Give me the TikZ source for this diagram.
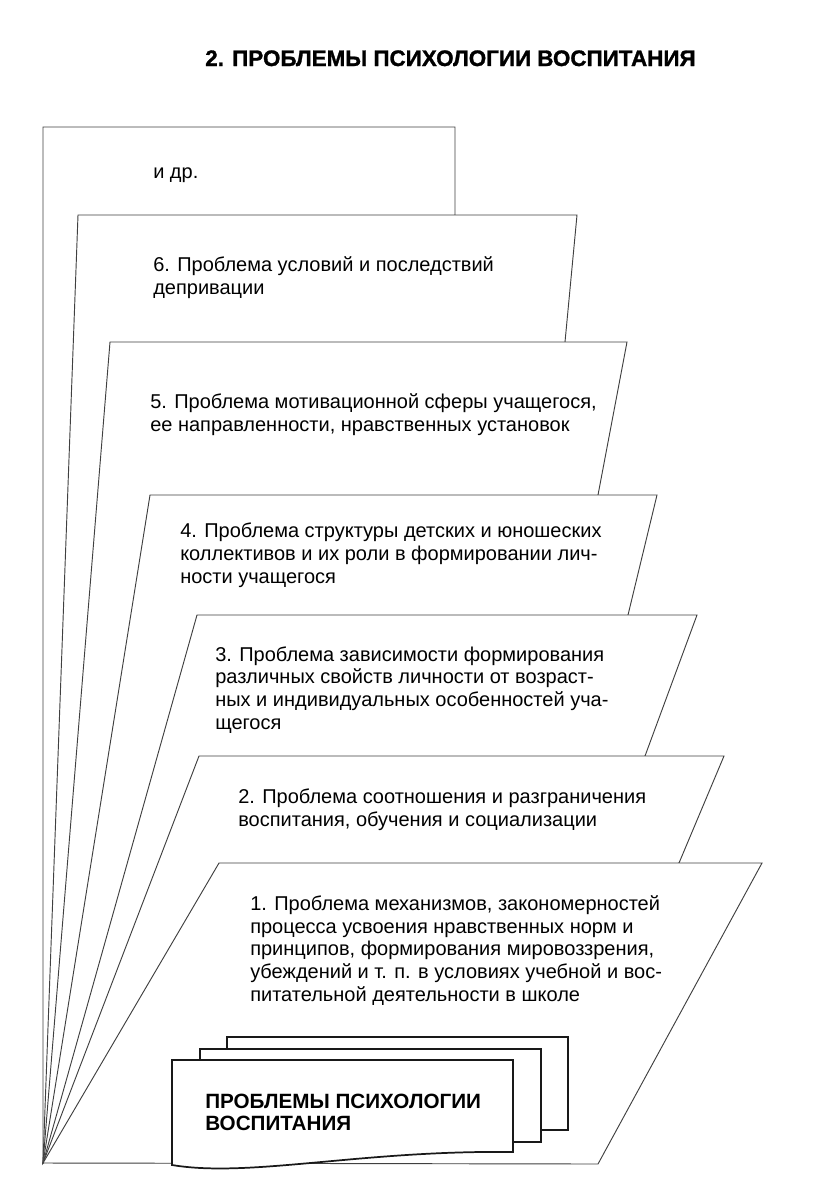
\documentclass[tikz,border=0pt]{standalone}
\usepackage{fontspec}
\setmainfont{Liberation Sans}
\begin{document}
\begin{tikzpicture}[
	x=0.75pt,y=-0.75pt,
	panel/.style={draw=black!75,fill=white,line width=0.7pt},
	sheet/.style={draw=black!90,fill=white,line width=1.3pt},
	every node/.style={inner sep=0,anchor=base west,align=left,font=\fontsize{15}{17}\selectfont}
	]
	\useasboundingbox (0,0) rectangle (816,1178);
	\coordinate (apex) at (43,1163);
	% fan of panels, back to front
	\coordinate (lt0) at (43,127);  \coordinate (rt0) at (455,127); \coordinate (rb0) at (455,215);
	\coordinate (lt6) at (78,215);  \coordinate (rt6) at (577,215); \coordinate (rb6) at (565,342);
	\coordinate (lt5) at (110,342); \coordinate (rt5) at (627,342); \coordinate (rb5) at (598,495);
	\coordinate (lt4) at (150,495); \coordinate (rt4) at (657,495); \coordinate (rb4) at (628,615);
	\coordinate (lt3) at (197,615); \coordinate (rt3) at (697,615); \coordinate (rb3) at (645,756);
	\coordinate (lt2) at (199,756); \coordinate (rt2) at (724,756); \coordinate (rb2) at (679,863);
	\coordinate (lt1) at (219,863); \coordinate (rt1) at (762,863); \coordinate (rb1) at (598,1164);
	\path[panel] (apex) -- (lt0) -- (rt0) -- (rb0) -- cycle;
	\path[panel] (apex) -- (lt6) -- (rt6) -- (rb6) -- cycle;
	\path[panel] (apex) -- (lt5) -- (rt5) -- (rb5) -- cycle;
	\path[panel] (apex) -- (lt4) -- (rt4) -- (rb4) -- cycle;
	\path[panel] (apex) -- (lt3) -- (rt3) -- (rb3) -- cycle;
	\path[panel] (apex) -- (lt2) -- (rt2) -- (rb2) -- cycle;
	\path[panel] (apex) -- (lt1) -- (rt1) -- (rb1) -- cycle;
	% stack of sheets
	\path[sheet] (227,1037) rectangle (568,1130);
	\path[sheet] (200,1049) rectangle (541,1142);
	\path[sheet] (172,1060) -- (513,1060) -- (513,1152)
		.. controls (360,1150) and (250,1178) .. (172,1165) -- cycle;
	% texts (base = baseline of the last line)
	\node[font=\fontsize{16.8}{20}\bfseries\addfontfeatures{FakeBold=1.3}] (title) at (205,66) {2. ПРОБЛЕМЫ ПСИХОЛОГИИ ВОСПИТАНИЯ};
	\node (t0) at (153,178) {и др.};
	\node (t6) at (153,294) {6. Проблема условий и последствий\\депривации};
	\node (t5) at (150,431) {5. Проблема мотивационной сферы учащегося,\\ее направленности, нравственных установок};
	\node (t4) at (180,583) {4. Проблема структуры детских и юношеских\\коллективов и их роли в формировании лич-\\ности учащегося};
	\node (t3) at (215,729) {3. Проблема зависимости формирования\\различных свойств личности от возраст-\\ных и индивидуальных особенностей уча-\\щегося};
	\node (t2) at (238,826) {2. Проблема соотношения и разграничения\\воспитания, обучения и социализации};
	\node (t1) at (250,1001) {1. Проблема механизмов, закономерностей\\процесса усвоения нравственных норм и\\принципов, формирования мировоззрения,\\убеждений и т. п. в условиях учебной и вос-\\питательной деятельности в школе};
	\node[font=\fontsize{15.5}{16}\bfseries\selectfont] (stack) at (205,1130) {ПРОБЛЕМЫ ПСИХОЛОГИИ\\ВОСПИТАНИЯ};
\end{tikzpicture}
\end{document}
